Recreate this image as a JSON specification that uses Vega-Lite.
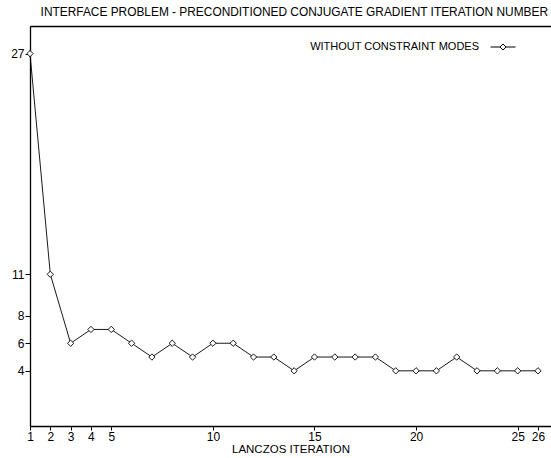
{
  "$schema": "https://vega.github.io/schema/vega-lite/v6.json",
  "autosize": {"type": "none"},
  "padding": {"left": 30, "top": 26, "right": 0, "bottom": 32},
  "width": 521,
  "height": 400,
  "background": "white",
  "config": {
    "font": "Liberation Sans",
    "view": {"stroke": null},
    "axis": {"grid": false, "domainColor": "black", "domainWidth": 1.3, "tickColor": "black", "tickWidth": 1, "labelColor": "black", "labelFontSize": 12, "labelFont": "Liberation Sans", "titleFont": "Liberation Sans", "titleFontWeight": "normal", "titleColor": "black", "titleFontSize": 11.5}
  },
  "title": {"text": "INTERFACE PROBLEM - PRECONDITIONED CONJUGATE GRADIENT ITERATION NUMBER", "anchor": "end", "dx": -3, "offset": 7, "fontSize": 11.9, "fontWeight": "normal", "color": "black", "font": "Liberation Sans"},
  "data": {"values": [
    {"it": 1, "n": 27}, {"it": 2, "n": 11}, {"it": 3, "n": 6}, {"it": 4, "n": 7}, {"it": 5, "n": 7},
    {"it": 6, "n": 6}, {"it": 7, "n": 5}, {"it": 8, "n": 6}, {"it": 9, "n": 5}, {"it": 10, "n": 6},
    {"it": 11, "n": 6}, {"it": 12, "n": 5}, {"it": 13, "n": 5}, {"it": 14, "n": 4}, {"it": 15, "n": 5},
    {"it": 16, "n": 5}, {"it": 17, "n": 5}, {"it": 18, "n": 5}, {"it": 19, "n": 4}, {"it": 20, "n": 4},
    {"it": 21, "n": 4}, {"it": 22, "n": 5}, {"it": 23, "n": 4}, {"it": 24, "n": 4}, {"it": 25, "n": 4},
    {"it": 26, "n": 4}
  ]},
  "layer": [
    {
      "mark": {"type": "line", "strokeWidth": 0.9},
      "encoding": {
        "x": {"field": "it", "type": "quantitative", "scale": {"domain": [1, 26.64], "nice": false, "zero": false},
              "axis": {"values": [1, 2, 3, 4, 5, 10, 15, 20, 25, 26], "title": "LANCZOS ITERATION", "titlePadding": 1, "tickSize": 4, "labelPadding": 1, "labelFlush": false}},
        "y": {"field": "n", "type": "quantitative", "scale": {"domain": [0, 29], "nice": false},
              "axis": {"values": [4, 6, 8, 11, 27], "title": null, "tickSize": 5, "labelPadding": 1}},
        "stroke": {"datum": "WITHOUT CONSTRAINT MODES", "type": "nominal", "scale": {"range": ["black"]},
                   "legend": {"title": null, "orient": "none", "legendX": 460, "legendY": 8, "symbolType": "M-1,0H-0.24M0.24,0H1M0,-0.24L0.24,0L0,0.24L-0.24,0Z", "symbolSize": 625, "symbolStrokeWidth": 1, "symbolFillColor": "white", "symbolStrokeColor": "black", "labelAlign": "right", "labelOffset": -37, "labelFontSize": 11, "labelColor": "black", "labelFont": "Liberation Sans", "labelLimit": 400}}
      }
    },
    {
      "mark": {"type": "point", "shape": "diamond", "size": 40, "filled": true, "fill": "white", "stroke": "black", "strokeWidth": 0.9, "opacity": 1},
      "encoding": {
        "x": {"field": "it", "type": "quantitative", "axis": {"orient": "top", "values": [], "labels": false, "ticks": false, "title": null, "domainWidth": 1.3}},
        "y": {"field": "n", "type": "quantitative"}
      }
    }
  ],
  "resolve": {"axis": {"x": "independent"}}
}
